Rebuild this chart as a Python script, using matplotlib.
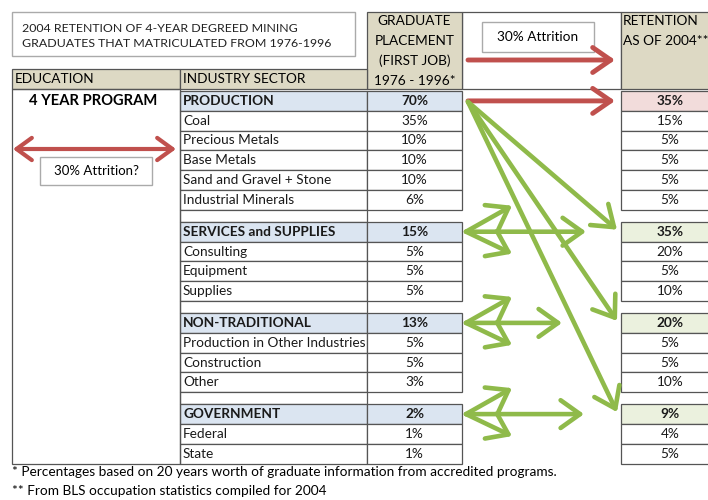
import matplotlib.pyplot as plt
from matplotlib.patches import Rectangle

plt.rcParams["font.family"] = ["Lato", "DejaVu Sans"]

# table content
groups = ["PRODUCTION", "SERVICES and SUPPLIES", "NON-TRADITIONAL", "GOVERNMENT"]
group_placement = [70, 15, 13, 2]
group_retention = [35, 35, 20, 9]
subsectors = [
    ["Coal", "Precious Metals", "Base Metals", "Sand and Gravel + Stone", "Industrial Minerals"],
    ["Consulting", "Equipment", "Supplies"],
    ["Production in Other Industries", "Construction", "Other"],
    ["Federal", "State"],
]
sub_placement = [[35, 10, 10, 10, 6], [5, 5, 5], [5, 5, 3], [1, 1]]
sub_retention = [[15, 5, 5, 5, 5], [20, 5, 10], [5, 5, 10], [4, 5]]

title = "2004 RETENTION OF 4-YEAR DEGREED MINING\nGRADUATES THAT MATRICULATED FROM 1976-1996"
placement_header = ["GRADUATE", "PLACEMENT", "(FIRST JOB)", "1976 - 1996*"]
retention_header = ["RETENTION", "AS OF 2004**"]
footnotes = [
    "* Percentages based on 20 years worth of graduate information from accredited programs.",
    "** From BLS occupation statistics compiled for 2004",
]

# colours
TAN = "#ddd9c4"
BLUE = "#dbe5f1"
PINK = "#f2dcdb"
GREEN_FILL = "#ebf1de"
RED = "#c0504d"
GREEN = "#8fba4a"
EDGE = "#555555"

# layout (pixels)
edu_x0, edu_x1 = 12, 180
sec_x1 = 367
pl_x1 = 462
ret_x0, ret_x1 = 621, 719
top_y, head_y0, head_y1 = 12, 69, 89
row_h, gap_h = 19.8, 12
fs = 9.8

fig = plt.figure(figsize=(7.08, 5.0), dpi=100)
ax = fig.add_axes([0, 0, 1, 1])
ax.set_xlim(0, 708)
ax.set_ylim(500, 0)
ax.axis("off")


def cell(x0, x1, y0, y1, fc="white"):
    ax.add_patch(Rectangle((x0, y0), x1 - x0, y1 - y0, facecolor=fc,
                           edgecolor=EDGE, lw=0.9))


def cell_text(x0, x1, y0, txt, center=True, bold=False):
    t = ax.text((x0 + x1) / 2 if center else x0 + 3, y0 + row_h / 2, txt, fontsize=fs,
                ha="center" if center else "left", va="center",
                fontweight="bold" if bold else "normal", color="#1a1a1a")
    t.set_clip_path(Rectangle((x0, y0), x1 - x0, row_h, transform=ax.transData))


# title box
ax.add_patch(Rectangle((12, 12), 343, 44, facecolor="white", edgecolor="#aaaaaa", lw=1))
ax.text(22, 36, title, fontsize=8.9, va="center", ha="left", color="#222222",
        linespacing=1.5)

# header cells
cell(pl_x1, ret_x0, top_y, head_y1)
cell(sec_x1, pl_x1, top_y, head_y1, TAN)
cell(ret_x0, ret_x1, top_y, head_y1, TAN)
cell(edu_x0, edu_x1, head_y0, head_y1, TAN)
cell(edu_x1, sec_x1, head_y0, head_y1, TAN)
ax.text(edu_x0 + 3, 79, "EDUCATION", fontsize=fs, va="center")
ax.text(edu_x1 + 3, 79, "INDUSTRY SECTOR", fontsize=fs, va="center")
for i, line in enumerate(placement_header):
    ax.text((sec_x1 + pl_x1) / 2, 21 + 20 * i, line, fontsize=fs, ha="center", va="center")
for i, line in enumerate(retention_header):
    ax.text(ret_x0 + 2, 21 + 20 * i, line, fontsize=fs, ha="left", va="center")

# rows
y = head_y1 + 2
group_centers = []
for g, name in enumerate(groups):
    group_centers.append(y + row_h / 2)
    ret_fc = PINK if g == 0 else GREEN_FILL
    cell(edu_x1, sec_x1, y, y + row_h, BLUE)
    cell(sec_x1, pl_x1, y, y + row_h, BLUE)
    cell(ret_x0, ret_x1, y, y + row_h, ret_fc)
    cell_text(edu_x1, sec_x1, y, name, center=False, bold=True)
    cell_text(sec_x1, pl_x1, y, f"{group_placement[g]}%", bold=True)
    cell_text(ret_x0, ret_x1, y, f"{group_retention[g]}%", bold=True)
    y += row_h
    for s, sub in enumerate(subsectors[g]):
        cell(edu_x1, sec_x1, y, y + row_h)
        cell(sec_x1, pl_x1, y, y + row_h)
        cell(ret_x0, ret_x1, y, y + row_h)
        cell_text(edu_x1, sec_x1, y, sub, center=False)
        cell_text(sec_x1, pl_x1, y, f"{sub_placement[g][s]}%")
        cell_text(ret_x0, ret_x1, y, f"{sub_retention[g][s]}%")
        y += row_h
    if g < len(groups) - 1:
        cell(edu_x1, sec_x1, y, y + gap_h)
        y += gap_h
table_bottom = y

# education column
ax.add_patch(Rectangle((edu_x0, head_y1), edu_x1 - edu_x0, table_bottom - head_y1,
                       facecolor="none", edgecolor=EDGE, lw=0.9))
ax.text((edu_x0 + edu_x1) / 2 - 3, group_centers[0], "4 YEAR PROGRAM", fontsize=10.6,
        fontweight="bold", ha="center", va="center")
ax.annotate("", xy=(edu_x1 - 4, 149), xytext=(edu_x0 + 1, 149),
            arrowprops=dict(arrowstyle="<->,head_length=0.55,head_width=0.4",
                            lw=3, color=RED, shrinkA=0, shrinkB=0, mutation_scale=20))
ax.add_patch(Rectangle((40, 157), 112, 28, facecolor="white", edgecolor="#aaaaaa", lw=1))
ax.text(96, 171, "30% Attrition?", fontsize=fs - 0.3, ha="center", va="center")

# attrition box + red arrows
ax.add_patch(Rectangle((482, 22), 112, 30, facecolor="white", edgecolor="#aaaaaa", lw=1))
ax.text(538, 37, "30% Attrition", fontsize=fs, ha="center", va="center")

x_from, x_to = pl_x1 + 6, ret_x0 - 6
red_style = dict(arrowstyle="->,head_length=0.65,head_width=0.45", lw=3.5, color=RED,
                 shrinkA=0, shrinkB=0, mutation_scale=20)
for ry in [60, group_centers[0]]:
    ax.annotate("", xy=(x_to, ry), xytext=(x_from, ry), arrowprops=red_style)

green_style = dict(arrowstyle="->,head_length=0.7,head_width=0.5", lw=3.3, color=GREEN,
                   shrinkA=0, shrinkB=0, mutation_scale=20)
# fan from production to the other groups
for gy in group_centers[1:]:
    ax.annotate("", xy=(x_to + 2, gy - 2), xytext=(x_from, group_centers[0] + 1),
                arrowprops=green_style)

# three-headed arrows beside each other group
fan_len = [120, 96, 118]
for gy, hl in zip(group_centers[1:], fan_len):
    ox = pl_x1 + 4
    ax.annotate("", xy=(ox + hl, gy), xytext=(ox, gy), arrowprops=green_style)
    ax.annotate("", xy=(ox + 46, gy - 26), xytext=(ox, gy), arrowprops=green_style)
    ax.annotate("", xy=(ox + 46, gy + 22), xytext=(ox, gy), arrowprops=green_style)

# footnotes
ax.text(12, 472, footnotes[0], fontsize=fs, va="center")
ax.text(12, 491, footnotes[1], fontsize=fs, va="center")

fig.savefig("out.png", dpi=100, facecolor="white")
